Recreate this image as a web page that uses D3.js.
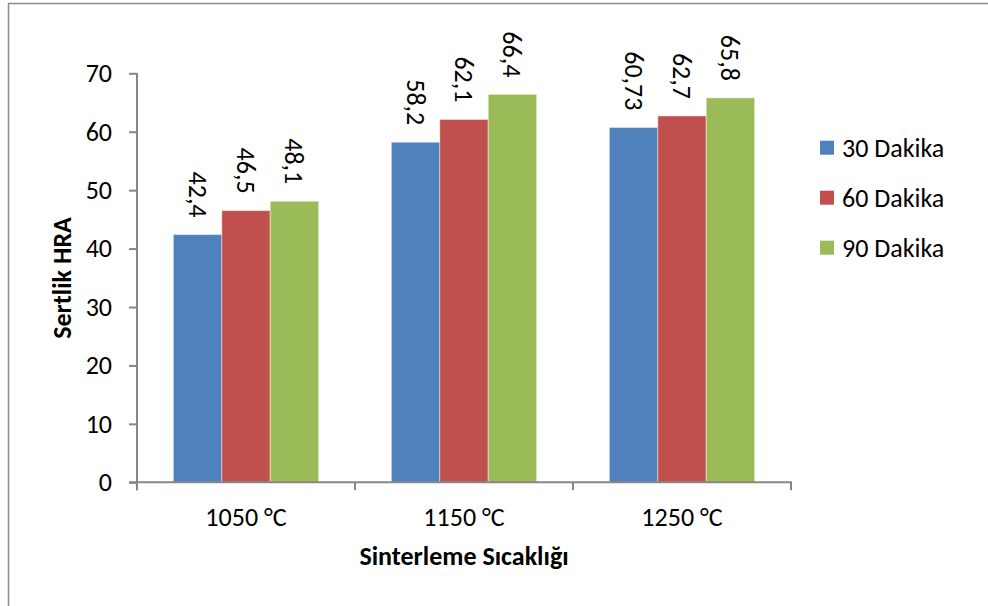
<!DOCTYPE html>
<html>
<head>
<meta charset="utf-8">
<script src="https://cdn.jsdelivr.net/npm/d3@7"></script>
<style>
  html, body { margin: 0; padding: 0; background: #fff; }
  svg { display: block; font-family: Carlito, Calibri, "Open Sans", sans-serif; }
</style>
</head>
<body>
<svg id="chart" width="988" height="606"></svg>
<script>
// Sintering temperature categories
const categories = ["1050 °C", "1150 °C", "1250 °C"];
// Sintering durations (series)
const seriesNames = ["30 Dakika", "60 Dakika", "90 Dakika"];
// Hardness (HRA) per duration, one value per temperature
const values30 = [42.4, 58.2, 60.73];
const values60 = [46.5, 62.1, 62.7];
const values90 = [48.1, 66.4, 65.8];
// Value labels as printed above the bars
const labels30 = ["42,4", "58,2", "60,73"];
const labels60 = ["46,5", "62,1", "62,7"];
const labels90 = ["48,1", "66,4", "65,8"];
const yTicks = [0, 10, 20, 30, 40, 50, 60, 70];
const colors = ["#4F81BD", "#C0504D", "#9BBB59"];

const seriesValues = [values30, values60, values90];
const seriesLabels = [labels30, labels60, labels90];

const svg = d3.select("#chart");
const axisColor = "#868686";
const fontFamily = 'Carlito, Calibri, "Open Sans", sans-serif';
const fontSize = 26;

// Outer chart frame
svg.append("rect")
  .attr("x", 8.5).attr("y", 3.5)
  .attr("width", 1000).attr("height", 700)
  .attr("fill", "none").attr("stroke", "#8c8c8c").attr("stroke-width", 1.5);

const plot = { left: 137, right: 791, top: 73.3, bottom: 482.3 };

const y = d3.scaleLinear().domain([0, 70]).range([plot.bottom, plot.top]);
const x0 = d3.scaleBand().domain(categories).range([plot.left, plot.right]).paddingInner(0).paddingOuter(0);
const x1 = d3.scaleBand().domain(seriesNames).range([0, x0.bandwidth()]).paddingInner(0).paddingOuter(0.75);

const rowsFor = (c, ci) => seriesNames.map((s, si) => ({ s, si, v: seriesValues[si][ci], label: seriesLabels[si][ci] }));

// Bars
const groups = svg.append("g").selectAll("g")
  .data(categories)
  .join("g")
  .attr("transform", d => `translate(${x0(d)},0)`);

groups.selectAll("rect")
  .data(rowsFor)
  .join("rect")
  .attr("x", d => x1(d.s))
  .attr("y", d => y(d.v))
  .attr("width", x1.bandwidth())
  .attr("height", d => y(0) - y(d.v))
  .attr("fill", d => colors[d.si])
  .attr("stroke", "rgba(255,255,255,0.45)")
  .attr("stroke-width", 1);

// Rotated value labels above bars
groups.selectAll("text")
  .data(rowsFor)
  .join("text")
  .attr("transform", d => `translate(${x1(d.s) + x1.bandwidth() / 2},${y(d.v) - 17}) rotate(90)`)
  .attr("text-anchor", "end")
  .attr("dominant-baseline", "central")
  .attr("font-size", fontSize)
  .attr("fill", "#000")
  .text(d => d.label);

// Y axis
const yAxis = d3.axisLeft(y).tickValues(yTicks).tickSize(8).tickPadding(17).tickFormat(d3.format("d"));
const gy = svg.append("g").attr("transform", `translate(${plot.left},0)`).call(yAxis);
gy.select(".domain").remove();
gy.append("line")
  .attr("x1", 0).attr("x2", 0)
  .attr("y1", plot.top).attr("y2", plot.bottom + 8)
  .attr("stroke", axisColor).attr("stroke-width", 2);
gy.selectAll(".tick line").attr("stroke", axisColor).attr("stroke-width", 2);
gy.selectAll(".tick text").attr("font-size", fontSize).attr("fill", "#000")
  .attr("font-family", fontFamily);

// X axis line and category boundary ticks
const gx = svg.append("g");
gx.append("line")
  .attr("x1", plot.left - 8).attr("x2", plot.right + 1)
  .attr("y1", plot.bottom).attr("y2", plot.bottom)
  .attr("stroke", axisColor).attr("stroke-width", 2);
const boundaries = categories.map(c => x0(c)).concat([x0(categories[categories.length - 1]) + x0.bandwidth()]);
gx.selectAll("line.sep")
  .data(boundaries)
  .join("line")
  .attr("class", "sep")
  .attr("x1", d => d).attr("x2", d => d)
  .attr("y1", plot.bottom).attr("y2", plot.bottom + 8)
  .attr("stroke", axisColor).attr("stroke-width", 2);
gx.selectAll("text")
  .data(categories)
  .join("text")
  .attr("x", d => x0(d) + x0.bandwidth() / 2)
  .attr("y", 526)
  .attr("text-anchor", "middle")
  .attr("font-size", fontSize)
  .text(d => d);

// Axis titles
svg.append("text")
  .attr("x", (plot.left + plot.right) / 2)
  .attr("y", 565)
  .attr("text-anchor", "middle")
  .attr("font-size", fontSize)
  .attr("font-weight", "bold")
  .text("Sinterleme Sıcaklığı");

svg.append("text")
  .attr("transform", `translate(71,278) rotate(-90)`)
  .attr("text-anchor", "middle")
  .attr("font-size", fontSize)
  .attr("font-weight", "bold")
  .text("Sertlik HRA");

// Legend
const legend = svg.append("g").selectAll("g")
  .data(seriesNames)
  .join("g")
  .attr("transform", (d, i) => `translate(820,${147.7 + i * 50})`);
legend.append("rect")
  .attr("x", 0).attr("y", -7).attr("width", 14).attr("height", 14)
  .attr("fill", (d, i) => colors[i]);
legend.append("text")
  .attr("x", 22).attr("y", 0)
  .attr("dominant-baseline", "central")
  .attr("font-size", fontSize)
  .text(d => d);
</script>
</body>
</html>
